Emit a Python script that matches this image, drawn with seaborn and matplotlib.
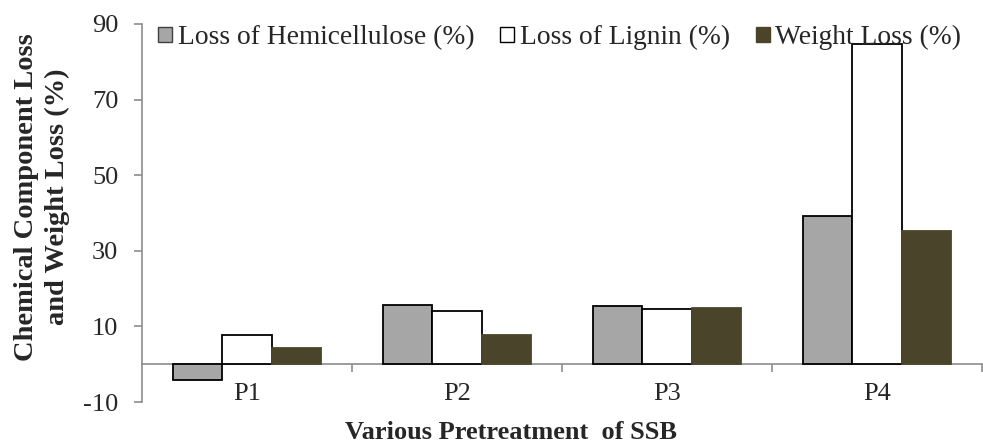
import matplotlib
matplotlib.use("Agg")
import matplotlib.pyplot as plt
import seaborn as sns
import pandas as pd
from matplotlib.patches import Patch

categories = ["P1", "P2", "P3", "P4"]
hemicellulose = [-4.2, 15.6, 15.3, 39.2]
lignin = [7.6, 14.2, 14.6, 84.6]
weight = [4.4, 7.8, 15.0, 35.2]
series = ["Loss of Hemicellulose (%)", "Loss of Lignin (%)", "Weight Loss (%)"]

rows = []
for name, vals in zip(series, [hemicellulose, lignin, weight]):
    for c, v in zip(categories, vals):
        rows.append({"cat": c, "series": name, "val": v})
df = pd.DataFrame(rows)

sns.set_style("white")
plt.rcParams["font.family"] = ["Liberation Serif", "DejaVu Serif"]
plt.rcParams["axes.unicode_minus"] = False

W, H = 983, 448
fig = plt.figure(figsize=(W / 100, H / 100), dpi=100)
ax = fig.add_axes([142 / W, 1 - 402 / H, 840 / W, 378 / H])

colors = ["#A6A6A6", "#FFFFFF", "#4A452A"]
sns.barplot(data=df, x="cat", y="val", hue="series", palette=colors,
            width=0.705, ax=ax, legend=False, saturation=1)

edge = {0: "black", 1: "black", 2: "#4A452A"}
for i, cont in enumerate(ax.containers):
    for p in cont:
        p.set_edgecolor(edge[i])
        p.set_linewidth(1.3)

ax.set_ylim(-10, 90)
ax.set_yticks([-10, 10, 30, 50, 70, 90])
ax.set_xlim(-0.5, 3.5)

gray = "#8C8C8C"
ax.spines["top"].set_visible(False)
ax.spines["right"].set_visible(False)
ax.spines["bottom"].set_position(("data", 0))
ax.spines["bottom"].set_color(gray)
ax.spines["bottom"].set_linewidth(1.2)
ax.spines["bottom"].set_zorder(0.5)
ax.spines["left"].set_color(gray)
ax.spines["left"].set_linewidth(1.2)

ax.set_xticks([0.5, 1.5, 2.5, 3.5], minor=True)
ax.tick_params(axis="y", left=True, length=6, color=gray, width=1.2, labelsize=19, pad=11)
ax.tick_params(axis="x", which="major", bottom=False, labelsize=19, pad=10)
ax.tick_params(axis="x", which="minor", bottom=True, length=6, color=gray, width=1.2, direction="out")

ax.set_xlabel("Various Pretreatment  of SSB", fontsize=19, fontweight="bold")
ax.xaxis.set_label_coords((511 - 142) / 840, (402 - 421) / 378)
ax.set_ylabel("Chemical Component Loss\nand Weight Loss (%)", fontsize=20.5, fontweight="bold",
              linespacing=1.3)
ax.yaxis.set_label_coords((70 - 142) / 840, (402 - 197) / 378)

handles = [Patch(facecolor=c, edgecolor=e, lw=1) for c, e in zip(colors, ["#404040", "black", "#4A452A"])]
leg = fig.legend(handles, series, loc="upper left", bbox_to_anchor=(150 / W, 1 - 17 / H), ncol=3,
                 frameon=False, fontsize=19.8, handlelength=0.5, handleheight=0.5,
                 handletextpad=0.2, columnspacing=0.95, borderaxespad=0, borderpad=0.3)

fig.savefig("out.png", dpi=100)
